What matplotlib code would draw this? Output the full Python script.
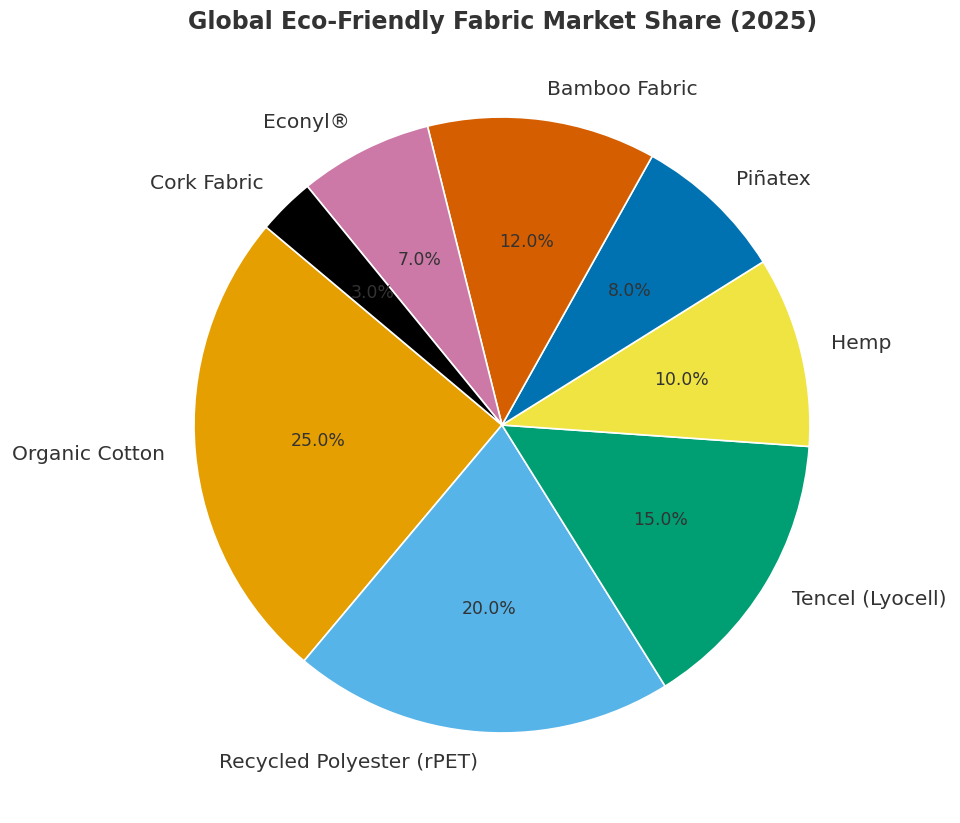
import matplotlib.pyplot as plt

labels = ["Organic Cotton", "Recycled Polyester (rPET)", "Tencel (Lyocell)", "Hemp",
          "Piñatex", "Bamboo Fabric", "Econyl®", "Cork Fabric"]
shares = [25, 20, 15, 10, 8, 12, 7, 3]
colors = ["#E69F00", "#56B4E9", "#009E73", "#F0E442",
          "#0072B2", "#D55E00", "#CC79A7", "#000000"]

TEXT = "#333333"

fig = plt.figure(figsize=(9.6, 8.23), dpi=100)
ax = fig.add_axes([0.1219, 0.0158, 0.802, 0.9356])

wedges, texts, autotexts = ax.pie(
    shares, labels=labels, colors=colors, autopct="%1.1f%%",
    startangle=140, counterclock=True,
    wedgeprops={"edgecolor": "white", "linewidth": 1.2},
    textprops={"fontsize": 14.6, "color": TEXT},
)
for t in autotexts:
    t.set_fontsize(12.4)
    t.set_color(TEXT)

ax.set_xlim(-1.25, 1.25)
ax.set_ylim(-1.25, 1.25)
ax.set_aspect("equal")

fig.text(0.524, 0.973, "Global Eco-Friendly Fabric Market Share (2025)",
         ha="center", va="center", fontsize=17, fontweight="bold", color=TEXT)

fig.savefig("out.png", dpi=100)
